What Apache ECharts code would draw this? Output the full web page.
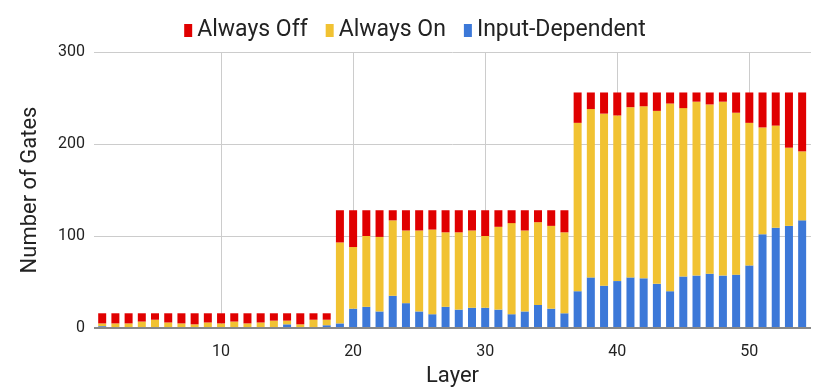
<!DOCTYPE html>
<html>
<head>
<meta charset="utf-8">
<script src="https://cdn.jsdelivr.net/npm/echarts@6/dist/echarts.min.js"></script>
<style>
  html, body { margin: 0; padding: 0; background: #fff; }
  #chart { width: 830px; height: 387px; }
</style>
</head>
<body>
<div id="chart"></div>
<script>
// layers 1..54
const layers = [1, 2, 3, 4, 5, 6, 7, 8, 9, 10, 11, 12, 13, 14, 15, 16, 17, 18,
  19, 20, 21, 22, 23, 24, 25, 26, 27, 28, 29, 30, 31, 32, 33, 34, 35, 36,
  37, 38, 39, 40, 41, 42, 43, 44, 45, 46, 47, 48, 49, 50, 51, 52, 53, 54]

const inputDependent = [2, 1, 1, 1, 0, 1, 0, 1, 1, 0, 0, 0, 0, 1, 4, 0, 1, 3,
  5, 21, 23, 18, 35, 27, 18, 15, 23, 20, 22, 22, 20, 15, 18, 25, 21, 16,
  40, 55, 46, 51, 55, 54, 48, 40, 56, 57, 59, 57, 58, 68, 102, 109, 111, 117]

const alwaysOn = [3, 4, 4, 6, 9, 5, 5, 3, 5, 5, 7, 5, 6, 7, 4, 4, 8, 6,
  88, 67, 77, 81, 82, 79, 88, 92, 81, 84, 84, 78, 90, 99, 88, 90, 90, 88,
  183, 183, 187, 180, 185, 187, 188, 204, 183, 189, 184, 189, 176, 155, 116, 111, 85, 75]

const alwaysOff = [11, 11, 11, 9, 7, 10, 11, 12, 10, 11, 9, 11, 10, 8, 8, 12, 7, 7,
  35, 40, 28, 29, 11, 22, 22, 21, 24, 24, 22, 28, 18, 14, 22, 13, 17, 24,
  33, 18, 23, 25, 16, 15, 20, 12, 17, 10, 13, 10, 22, 33, 38, 36, 60, 64]

const xTicks = [10, 20, 30, 40, 50]
const yTicks = [0, 100, 200, 300]

const chart = echarts.init(document.getElementById('chart'))

// value first so the stack goes on the y dimension
function pairs(vals) {
  return layers.map((l, i) => [vals[i], l])
}

const font = 'Roboto'

const option = {
  animation: false,
  textStyle: { fontFamily: font },
  color: ['#3c78d8', '#f1c232', '#e00000'],
  legend: {
    data: ['Always Off', 'Always On', 'Input-Dependent'],
    top: 14,
    left: 'center',
    itemWidth: 8,
    itemHeight: 13,
    itemGap: 18,
    icon: 'rect',
    textStyle: { fontSize: 23, color: '#222', fontFamily: font }
  },
  grid: {
    left: 94,
    right: 19,
    top: 52,
    bottom: 59,
    outerBoundsMode: 'none'
  },
  xAxis: {
    type: 'value',
    min: 0.38,
    max: 54.67,
    name: 'Layer',
    nameLocation: 'middle',
    nameGap: 37,
    nameTextStyle: { fontSize: 22, color: '#222' },
    axisLine: { show: false },
    axisTick: { show: false, customValues: xTicks },
    axisLabel: { customValues: xTicks, fontSize: 16, color: '#222', margin: 16 },
    splitLine: { show: true, lineStyle: { color: '#cccccc', width: 1 } }
  },
  yAxis: {
    type: 'value',
    min: yTicks[0],
    max: yTicks[yTicks.length - 1],
    interval: 100,
    name: 'Number of Gates',
    nameLocation: 'middle',
    nameGap: 53,
    nameTextStyle: { fontSize: 22, color: '#222' },
    axisLine: { show: false },
    axisTick: { show: false },
    axisLabel: { fontSize: 16, color: '#222', margin: 9 },
    splitLine: { lineStyle: { color: '#cccccc', width: 1 } }
  },
  series: [
    {
      name: 'Input-Dependent',
      type: 'bar',
      stack: 'total',
      barWidth: 8,
      encode: { x: 1, y: 0 },
      data: pairs(inputDependent),
      markLine: {
        silent: true,
        symbol: 'none',
        label: { show: false },
        lineStyle: { color: '#888', width: 2, type: 'solid' },
        data: [{ yAxis: 0 }]
      }
    },
    {
      name: 'Always On',
      type: 'bar',
      stack: 'total',
      barWidth: 8,
      encode: { x: 1, y: 0 },
      data: pairs(alwaysOn)
    },
    {
      name: 'Always Off',
      type: 'bar',
      stack: 'total',
      barWidth: 8,
      encode: { x: 1, y: 0 },
      data: pairs(alwaysOff)
    }
  ]
}

chart.setOption(option)
window.addEventListener('resize', function () {
  chart.resize()
})
</script>
</body>
</html>
